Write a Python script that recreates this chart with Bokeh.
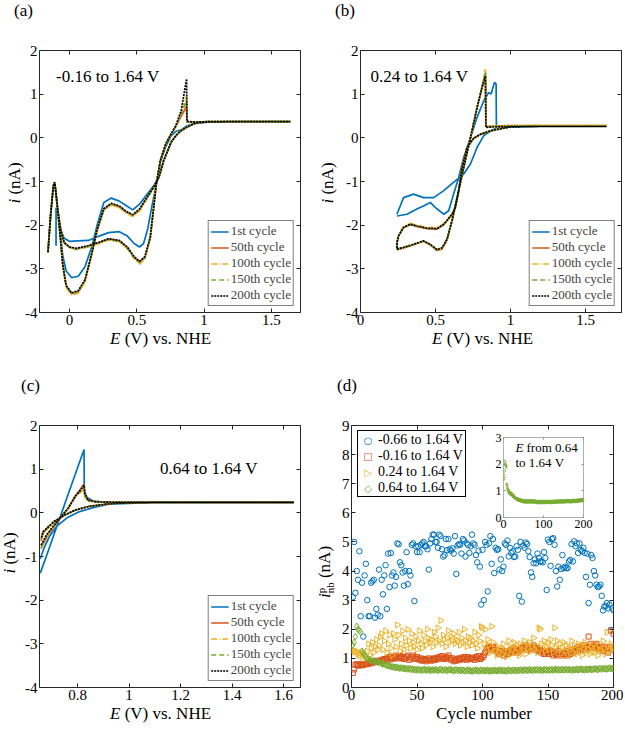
import numpy as np
from bokeh.plotting import figure
from bokeh.models import Range1d, LinearAxis, FixedTicker, Label, Legend, LegendItem, Div
from bokeh.layouts import row, column
from bokeh.embed import file_html
from bokeh.resources import INLINE

FONT = "Liberation Serif"
BLUE = "#0072BD"; RED = "#D95319"; YEL = "#EDB120"; GRN = "#77AC30"; BLK = "#000000"

# ---------------- panel (a): -0.16 to 1.64 V ----------------
a_E1 = [-0.10, -0.10, -0.09, -0.065, -0.04, 0.0, 0.06, 0.14, 0.22, 0.29, 0.37, 0.43, 0.48, 0.52, 0.55, 0.58, 0.61, 0.64,
        0.675, 0.715, 0.755, 0.79, 0.83, 0.87, 0.93, 1.03, 1.2, 1.4, 1.64,
        1.4, 1.2, 1.0, 0.93, 0.87, 0.83, 0.79, 0.755, 0.70, 0.665, 0.625, 0.575, 0.52, 0.47, 0.42, 0.37, 0.31, 0.255,
        0.205, 0.165, 0.115, 0.065, 0.015, -0.025, -0.05, -0.075, -0.10, -0.11, -0.12, -0.14, -0.16]
a_i1 = [-2.47, -1.6, -1.7, -2.1, -2.3, -2.37, -2.36, -2.35, -2.25, -2.17, -2.15, -2.25, -2.42, -2.5, -2.42, -2.1, -1.6, -1.15,
        -0.55, -0.2, 0.05, 0.15, 0.18, 0.27, 0.33, 0.36, 0.37, 0.37, 0.37,
        0.37, 0.37, 0.36, 0.33, 0.25, 0.17, 0.05, -0.1, -0.52, -0.88, -1.1, -1.3, -1.52, -1.65, -1.55, -1.45, -1.38, -1.48,
        -2.0, -2.5, -2.95, -3.17, -3.2, -3.05, -2.7, -2.0, -1.28, -1.02, -1.1, -1.75, -2.62]
a_E = [-0.16, -0.14, -0.12, -0.11, -0.09, -0.065, -0.04, 0.0, 0.05, 0.14, 0.22, 0.29, 0.37, 0.43, 0.48, 0.52, 0.56, 0.60,
       0.625, 0.645, 0.675, 0.715, 0.755, 0.79, 0.83, 0.87, 0.872, 0.93, 1.03, 1.2, 1.4, 1.64,
       1.4, 1.2, 1.0, 0.93, 0.87, 0.83, 0.79, 0.755, 0.70, 0.665, 0.625, 0.575, 0.52, 0.47, 0.42, 0.37, 0.31, 0.255,
       0.205, 0.165, 0.115, 0.065, 0.015, -0.025, -0.05, -0.075, -0.10, -0.11, -0.12, -0.14, -0.16]
a_i50 = [-2.62, -1.75, -1.1, -1.02, -1.59, -2.12, -2.4, -2.5, -2.54, -2.48, -2.4, -2.32, -2.36, -2.52, -2.74, -2.85, -2.74, -2.28,
         -1.6, -1.05, -0.52, -0.14, 0.09, 0.26, 0.5, 0.72, 0.36, 0.36, 0.37, 0.37, 0.37, 0.37,
         0.37, 0.37, 0.36, 0.33, 0.24, 0.17, 0.05, -0.1, -0.52, -0.9, -1.14, -1.38, -1.66, -1.78, -1.7, -1.58, -1.52, -1.64,
         -2.12, -2.66, -3.28, -3.53, -3.57, -3.4, -2.92, -2.05, -1.28, -1.02, -1.1, -1.75, -2.62]
a_i100 = [-2.62, -1.75, -1.1, -1.02, -1.59, -2.12, -2.41, -2.52, -2.56, -2.5, -2.42, -2.34, -2.38, -2.54, -2.77, -2.89, -2.77, -2.3,
          -1.6, -1.05, -0.52, -0.14, 0.09, 0.27, 0.58, 0.95, 0.36, 0.36, 0.37, 0.37, 0.37, 0.37,
          0.37, 0.37, 0.36, 0.33, 0.24, 0.17, 0.05, -0.1, -0.52, -0.9, -1.15, -1.4, -1.68, -1.8, -1.72, -1.6, -1.54, -1.66,
          -2.14, -2.68, -3.3, -3.56, -3.6, -3.42, -2.93, -2.05, -1.28, -1.02, -1.1, -1.75, -2.62]
a_i150 = [-2.62, -1.75, -1.1, -1.02, -1.59, -2.12, -2.4, -2.51, -2.55, -2.49, -2.41, -2.33, -2.37, -2.53, -2.75, -2.86, -2.75, -2.29,
          -1.6, -1.05, -0.52, -0.14, 0.09, 0.27, 0.55, 0.85, 0.36, 0.36, 0.37, 0.37, 0.37, 0.37,
          0.37, 0.37, 0.36, 0.33, 0.24, 0.17, 0.05, -0.1, -0.52, -0.9, -1.14, -1.38, -1.65, -1.77, -1.69, -1.57, -1.51, -1.63,
          -2.11, -2.66, -3.27, -3.52, -3.57, -3.39, -2.91, -2.05, -1.28, -1.02, -1.1, -1.75, -2.62]
a_i200 = [-2.62, -1.75, -1.1, -1.02, -1.59, -2.12, -2.4, -2.5, -2.53, -2.47, -2.39, -2.31, -2.35, -2.5, -2.72, -2.83, -2.72, -2.27,
          -1.6, -1.05, -0.52, -0.14, 0.09, 0.28, 0.63, 1.35, 0.38, 0.36, 0.37, 0.37, 0.37, 0.37,
          0.37, 0.37, 0.36, 0.33, 0.24, 0.17, 0.05, -0.1, -0.52, -0.9, -1.13, -1.36, -1.63, -1.76, -1.68, -1.56, -1.5, -1.62,
          -2.1, -2.65, -3.25, -3.5, -3.55, -3.38, -2.9, -2.05, -1.28, -1.02, -1.1, -1.75, -2.62]

# ---------------- panel (b): 0.24 to 1.64 V ----------------
b_E1 = [0.243, 0.31, 0.376, 0.42, 0.465, 0.5, 0.555, 0.588, 0.62, 0.655, 0.688, 0.733, 0.777, 0.822, 0.855, 0.87, 0.893,
        0.904, 0.906, 1.0, 1.2, 1.4, 1.64,
        1.4, 1.2, 1.0, 0.89, 0.822, 0.777, 0.733, 0.688, 0.62, 0.555, 0.488, 0.42, 0.354, 0.287, 0.243]
b_i1 = [-1.79, -1.75, -1.63, -1.56, -1.48, -1.6, -1.75, -1.67, -1.29, -0.91, -0.45, 0.0, 0.47, 0.85, 1.04, 1.0, 1.27,
        1.23, 0.27, 0.27, 0.27, 0.27, 0.27,
        0.27, 0.27, 0.25, 0.2, 0.05, -0.22, -0.6, -0.83, -1.02, -1.21, -1.37, -1.37, -1.29, -1.37, -1.75]
b_E = [0.243, 0.287, 0.354, 0.42, 0.465, 0.51, 0.543, 0.577, 0.61, 0.644, 0.688, 0.733, 0.777, 0.81, 0.833, 0.836, 0.89,
       1.0, 1.2, 1.4, 1.64,
       1.4, 1.2, 1.0, 0.955, 0.866, 0.8, 0.755, 0.71, 0.677, 0.655, 0.632, 0.61, 0.555, 0.51, 0.443, 0.376, 0.332, 0.287,
       0.254, 0.243, 0.243]
b_i50 = [-2.56, -2.52, -2.45, -2.37, -2.45, -2.58, -2.55, -2.34, -1.9, -1.37, -0.68, 0.0, 0.69, 1.15, 1.48, 0.26, 0.27,
         0.28, 0.28, 0.28, 0.28,
         0.28, 0.28, 0.27, 0.23, 0.16, 0.08, -0.01, -0.22, -0.68, -1.21, -1.6, -1.76, -1.99, -2.09, -2.08, -2.03, -1.99,
         -2.06, -2.25, -2.41, -2.56]
b_i100 = [-2.56, -2.52, -2.45, -2.37, -2.45, -2.57, -2.53, -2.33, -1.9, -1.37, -0.68, 0.0, 0.69, 1.18, 1.57, 0.26, 0.27,
          0.28, 0.28, 0.28, 0.28,
          0.28, 0.28, 0.27, 0.23, 0.16, 0.08, -0.01, -0.22, -0.68, -1.21, -1.6, -1.75, -1.97, -2.06, -2.05, -2.0, -1.96,
          -2.03, -2.23, -2.4, -2.56]
b_i150 = [-2.55, -2.51, -2.44, -2.36, -2.44, -2.56, -2.52, -2.32, -1.9, -1.37, -0.68, 0.0, 0.69, 1.16, 1.52, 0.25, 0.26,
          0.27, 0.27, 0.27, 0.27,
          0.27, 0.27, 0.26, 0.22, 0.16, 0.08, -0.01, -0.22, -0.68, -1.21, -1.6, -1.75, -1.98, -2.08, -2.07, -2.02, -1.98,
          -2.05, -2.24, -2.4, -2.55]
b_i200 = [-2.55, -2.51, -2.44, -2.36, -2.44, -2.56, -2.52, -2.32, -1.9, -1.37, -0.68, 0.0, 0.69, 1.15, 1.42, 0.24, 0.25,
          0.26, 0.26, 0.26, 0.26,
          0.26, 0.26, 0.25, 0.22, 0.16, 0.08, -0.01, -0.22, -0.68, -1.21, -1.6, -1.75, -1.98, -2.08, -2.07, -2.02, -1.98,
          -2.05, -2.24, -2.4, -2.55]

# ---------------- panel (c): 0.64 to 1.64 V ----------------
c_E1 = [0.655, 0.68, 0.72, 0.763, 0.804, 0.825, 0.826, 0.835, 0.86, 0.92, 1.1, 1.3, 1.5, 1.64,
        1.5, 1.3, 1.1, 0.92, 0.86, 0.804, 0.763, 0.72, 0.69, 0.67, 0.655]
c_i1 = [-1.38, -0.97, -0.3, 0.42, 1.1, 1.45, 0.5, 0.36, 0.27, 0.24, 0.24, 0.24, 0.24, 0.24,
        0.24, 0.24, 0.24, 0.2, 0.12, 0.02, -0.1, -0.3, -0.55, -0.8, -1.05]
c_E = [0.658, 0.68, 0.72, 0.763, 0.79, 0.811, 0.825, 0.828, 0.84, 0.873, 0.95, 1.1, 1.3, 1.5, 1.64,
       1.5, 1.3, 1.1, 0.95, 0.915, 0.845, 0.79, 0.75, 0.708, 0.666, 0.658]
c_i50 = [-0.82, -0.56, -0.22, 0.1, 0.38, 0.54, 0.66, 0.42, 0.29, 0.25, 0.24, 0.24, 0.24, 0.24, 0.24,
         0.24, 0.24, 0.24, 0.22, 0.2, 0.15, 0.06, -0.05, -0.21, -0.46, -0.64]
c_i100 = [-0.8, -0.54, -0.21, 0.1, 0.35, 0.47, 0.55, 0.3, 0.27, 0.25, 0.24, 0.24, 0.24, 0.24, 0.24,
          0.24, 0.24, 0.24, 0.22, 0.2, 0.15, 0.06, -0.05, -0.2, -0.44, -0.62]
c_i150 = [-0.78, -0.52, -0.2, 0.1, 0.36, 0.5, 0.6, 0.4, 0.28, 0.25, 0.24, 0.24, 0.24, 0.24, 0.24,
          0.24, 0.24, 0.24, 0.22, 0.2, 0.15, 0.06, -0.05, -0.2, -0.43, -0.6]
c_i200 = [-0.74, -0.5, -0.2, 0.1, 0.37, 0.52, 0.63, 0.45, 0.29, 0.25, 0.24, 0.24, 0.24, 0.24, 0.24,
          0.24, 0.24, 0.24, 0.22, 0.2, 0.15, 0.06, -0.05, -0.2, -0.43, -0.59]

cycle_names = ["1st cycle", "50th cycle", "100th cycle", "150th cycle", "200th cycle"]

# ---------------- panel (d): peak current vs cycle ----------------
cycles = list(range(1, 201))
d_066 = [3.1, 5.0, 3.25, 4.0, 3.7, 4.68, 2.45, 3.6, 1.75, 3.85,
         4.25, 3.0, 2.45, 2.45, 3.6, 3.65, 3.7, 2.4, 2.7, 2.5,
         4.05, 2.45, 3.7, 3.2, 3.85, 4.2, 2.7, 4.6, 3.45, 4.62,
         3.85, 3.95, 3.5, 3.8, 4.95, 4.92, 4.3, 4.2, 3.95, 3.5,
         4.0, 4.65, 3.55, 4.0, 3.85, 4.9, 4.95, 2.97, 4.85, 4.65,
         4.85, 4.65, 4.9, 4.95, 5.0, 4.85, 4.85, 4.75, 4.05, 4.95,
         5.1, 5.25, 5.25, 5.0, 5.0, 4.8, 5.25, 5.2, 4.75, 4.5,
         4.55, 5.1, 4.72, 5.1, 4.75, 4.7, 4.78, 4.6, 5.2, 3.9,
         4.88, 4.92, 4.9, 4.6, 5.1, 5.05, 4.5, 4.95, 4.9, 4.62,
         4.85, 5.25, 4.95, 4.9, 4.55, 4.3, 4.7, 4.15, 2.85, 4.73,
         3.0, 5.0, 4.9, 3.3, 4.95, 5.2, 4.25, 5.1, 3.93, 4.8,
         4.73, 4.75, 4.05, 4.4, 4.0, 4.15, 4.95, 4.9, 5.05, 4.5,
         4.8, 4.62, 4.68, 4.48, 4.5, 4.85, 4.73, 3.15, 5.0, 2.95,
         4.88, 4.8, 4.98, 4.93, 4.68, 4.48, 3.95, 3.8, 4.27, 4.4,
         4.27, 4.6, 4.45, 4.33, 4.33, 4.3, 4.65, 4.45, 3.35, 5.08,
         5.0, 4.18, 5.1, 5.13, 4.9, 4.0, 3.47, 4.15, 3.7, 4.07,
         4.55, 4.1, 4.15, 4.1, 4.1, 4.33, 4.38, 4.93, 4.33, 5.02,
         4.85, 4.95, 4.62, 4.95, 4.73, 4.68, 4.8, 4.62, 3.8, 4.6,
         2.9, 3.53, 4.55, 4.45, 4.0, 3.85, 3.53, 3.45, 3.47, 3.53,
         3.15, 2.65, 2.78, 2.8, 2.9, 2.72, 2.85, 1.98, 2.72, 2.65]
d_016 = [0.5, 0.62, 0.78, 0.8, 0.75, 0.78, 0.8, 0.76, 0.78, 0.8,
         0.82, 0.8, 0.85, 0.82, 0.88, 0.85, 0.9, 0.88, 0.92, 0.9,
         0.9, 0.92, 0.95, 0.9, 0.98, 0.95, 1.0, 0.95, 1.05, 1.0,
         0.98, 1.05, 1.0, 1.1, 1.05, 1.0, 1.08, 1.02, 1.05, 0.98,
         1.0, 1.05, 1.1, 0.95, 1.0, 1.05, 1.1, 1.0, 0.98, 1.05,
         1.0, 0.95, 1.0, 0.92, 0.95, 0.98, 0.9, 0.95, 1.0, 0.95,
         0.92, 0.98, 1.0, 0.95, 1.02, 0.98, 1.05, 1.0, 1.08, 1.0,
         0.98, 1.05, 1.0, 1.1, 1.02, 0.95, 1.0, 0.9, 0.95, 0.92,
         0.98, 1.0, 0.95, 1.02, 0.98, 1.05, 1.0, 0.95, 1.05, 1.0,
         0.98, 1.02, 1.0, 0.95, 1.05, 1.0, 1.08, 0.98, 1.0, 1.05,
         1.1, 1.2, 1.3, 1.35, 1.4, 1.35, 1.3, 1.4, 1.35, 1.3,
         1.25, 1.2, 1.15, 1.25, 1.2, 1.1, 1.2, 1.25, 1.15, 1.2,
         1.25, 1.3, 1.2, 1.35, 1.25, 1.3, 1.2, 1.25, 1.3, 1.35,
         1.4, 1.35, 1.45, 1.3, 1.4, 1.35, 1.3, 1.4, 1.45, 1.35,
         1.3, 1.35, 1.25, 1.3, 1.2, 1.25, 1.15, 1.2, 1.25, 1.2,
         1.15, 1.25, 1.2, 1.1, 1.2, 1.15, 1.1, 1.25, 1.2, 1.15,
         1.1, 1.2, 1.15, 1.25, 1.1, 1.2, 1.15, 1.3, 1.2, 1.25,
         1.3, 1.35, 1.25, 1.4, 1.3, 1.35, 1.45, 1.3, 1.4, 1.35,
         1.75, 1.4, 1.5, 1.35, 1.45, 1.4, 1.5, 1.35, 1.3, 1.4,
         1.35, 1.25, 1.4, 1.3, 1.35, 1.2, 1.4, 1.95, 1.3, 1.85]
d_024 = [1.3, 1.25, 1.2, 1.25, 1.15, 1.1, 1.2, 1.05, 1.15, 1.1,
         1.0, 1.25, 1.5, 1.1, 1.35, 1.55, 1.2, 1.4, 1.65, 1.3,
         1.45, 1.75, 1.85, 1.3, 1.6, 1.95, 1.2, 1.5, 1.8, 1.35,
         1.1, 1.85, 1.65, 1.4, 2.15, 1.8, 1.25, 1.5, 1.95, 1.3,
         1.7, 1.45, 2.0, 1.6, 1.35, 1.85, 1.55, 1.4, 1.75, 1.3,
         1.6, 1.95, 1.5, 1.35, 1.8, 1.6, 1.45, 2.0, 1.7, 1.55,
         1.65, 1.4, 1.9, 1.75, 1.55, 2.05, 1.6, 2.3, 1.5, 1.8,
         1.65, 1.4, 1.7, 1.95, 1.55, 1.75, 1.6, 1.85, 1.5, 1.65,
         1.6, 1.9, 1.45, 1.7, 1.55, 2.0, 1.6, 1.4, 1.75, 1.55,
         1.7, 1.45, 1.6, 1.9, 1.5, 1.35, 1.8, 1.6, 2.1, 2.05,
         1.5, 2.0, 1.3, 1.65, 1.45, 1.2, 2.1, 1.55, 1.35, 1.25,
         1.1, 1.4, 1.2, 1.35, 1.15, 1.5, 1.3, 1.05, 1.25, 1.6,
         1.4, 1.15, 1.3, 1.55, 1.2, 1.45, 1.35, 1.1, 1.5, 1.25,
         1.3, 1.6, 1.15, 1.45, 1.35, 1.55, 1.25, 1.4, 1.7, 1.3,
         1.45, 1.2, 2.05, 2.0, 1.5, 1.35, 1.6, 1.25, 1.4, 1.55,
         1.3, 1.65, 1.45, 1.2, 2.05, 1.4, 1.6, 1.3, 1.5, 1.15,
         1.35, 1.55, 1.25, 1.45, 1.1, 1.4, 1.3, 1.6, 1.2, 1.45,
         1.3, 1.15, 1.5, 1.25, 1.4, 1.1, 1.35, 1.55, 1.2, 1.45,
         1.3, 1.15, 1.4, 1.25, 1.5, 1.2, 1.35, 1.1, 1.45, 1.3,
         1.25, 1.6, 1.35, 1.15, 1.9, 1.4, 1.25, 1.5, 1.3, 1.35]
d_064 = [1.45, 1.55, 1.75, 2.1, 2.0, 1.95, 1.9, 1.25, 1.2, 1.1,
         1.05, 1.0, 0.98, 0.95, 0.92, 0.9, 0.92, 0.88, 0.9, 0.86,
         0.88, 0.85, 0.82, 0.8, 0.82, 0.78, 0.76, 0.75, 0.74, 0.72,
         0.72, 0.7, 0.7, 0.68, 0.7, 0.67, 0.66, 0.68, 0.65, 0.66,
         0.64, 0.66, 0.63, 0.65, 0.62, 0.64, 0.61, 0.63, 0.6, 0.62,
         0.6, 0.62, 0.58, 0.61, 0.6, 0.63, 0.59, 0.6, 0.62, 0.58,
         0.6, 0.61, 0.59, 0.62, 0.6, 0.58, 0.61, 0.63, 0.6, 0.59,
         0.62, 0.6, 0.58, 0.61, 0.6, 0.62, 0.59, 0.57, 0.6, 0.61,
         0.58, 0.6, 0.59, 0.57, 0.6, 0.58, 0.56, 0.59, 0.6, 0.57,
         0.58, 0.56, 0.59, 0.57, 0.6, 0.58, 0.56, 0.58, 0.6, 0.57,
         0.59, 0.57, 0.58, 0.6, 0.56, 0.58, 0.59, 0.57, 0.6, 0.58,
         0.57, 0.59, 0.58, 0.6, 0.57, 0.59, 0.58, 0.56, 0.59, 0.6,
         0.58, 0.57, 0.6, 0.59, 0.57, 0.6, 0.58, 0.59, 0.61, 0.58,
         0.6, 0.59, 0.61, 0.58, 0.6, 0.62, 0.59, 0.6, 0.58, 0.61,
         0.6, 0.62, 0.59, 0.61, 0.6, 0.58, 0.62, 0.6, 0.61, 0.59,
         0.61, 0.6, 0.62, 0.59, 0.61, 0.63, 0.6, 0.62, 0.6, 0.61,
         0.62, 0.6, 0.61, 0.63, 0.6, 0.62, 0.61, 0.59, 0.62, 0.6,
         0.61, 0.63, 0.6, 0.62, 0.64, 0.61, 0.62, 0.6, 0.63, 0.61,
         0.62, 0.64, 0.61, 0.63, 0.62, 0.65, 0.63, 0.61, 0.64, 0.66,
         0.63, 0.65, 0.64, 0.66, 0.63, 0.65, 0.67, 0.64, 0.66, 0.65]
d_names = ["-0.66 to 1.64 V", "-0.16 to 1.64 V", "0.24 to 1.64 V", "0.64 to 1.64 V"]
d_symbols = ["\u25CB", "\u25A1", "\u25B7", "\u25C7"]

# tick values / labels
ab_xticks = [0, 0.5, 1, 1.5]; ab_xlabels = ["0", "0.5", "1", "1.5"]
c_xticks = [0.8, 1.0, 1.2, 1.4, 1.6]; c_xlabels = ["0.8", "1", "1.2", "1.4", "1.6"]
cv_yticks = [-4, -3, -2, -1, 0, 1, 2]; cv_ylabels = ["-4", "-3", "-2", "-1", "0", "1", "2"]
d_xticks = [0, 50, 100, 150, 200]; d_xlabels = ["0", "50", "100", "150", "200"]
d_yticks = list(range(0, 10)); d_ylabels = [str(v) for v in d_yticks]
in_xticks = [0, 100, 200]; in_xlabels = ["0", "100", "200"]
in_yticks = [0, 1, 2, 3]; in_ylabels = ["0", "1", "2", "3"]


def base_fig(w, h, xr, yr, bl, br, bt, bb, outline="#262626"):
    p = figure(width=w, height=h, x_range=Range1d(*xr), y_range=Range1d(*yr),
               x_axis_type=None, y_axis_type=None, output_backend="svg", toolbar_location=None,
               min_border_left=bl, min_border_right=br, min_border_top=bt, min_border_bottom=bb)
    p.outline_line_color = outline
    p.outline_line_width = 1
    p.background_fill_color = "white"
    p.border_fill_color = "white"
    return p


def axes(p, xt, xl, yt, yl, fs="15px", tick_len=4, color="#262626"):
    for loc, ticks, labels, show in [("below", xt, xl, True), ("above", xt, xl, False),
                                     ("left", yt, yl, True), ("right", yt, yl, False)]:
        ax = LinearAxis(ticker=FixedTicker(ticks=ticks), major_label_overrides=dict(zip(ticks, labels)))
        ax.axis_line_color = None
        ax.major_tick_in = tick_len
        ax.major_tick_out = 0
        ax.major_tick_line_color = color
        ax.minor_tick_line_color = None
        ax.major_label_text_font = FONT
        if show:
            ax.major_label_text_color = "black"
            ax.major_label_text_font_size = fs
            ax.major_label_standoff = 2
        else:
            ax.major_label_text_color = None
            ax.major_label_text_font_size = "1px"
            ax.major_label_standoff = 0
        p.add_layout(ax, loc)


def lab(p, x, y, s, size="17px", style="normal", xo=0):
    p.add_layout(Label(x=x, y=y, x_units="data", y_units="data", text=s, text_font=FONT,
                       text_font_size=size, text_font_style=style, text_align="left",
                       text_baseline="middle", x_offset=xo, text_color="black"))


def hdiv(html, left, top, w, h, size=17, rotate=False, align="left"):
    st = {"position": "absolute", "left": f"{left}px", "top": f"{top}px"}
    if rotate:
        st["transform"] = "rotate(-90deg)"
        st["transform-origin"] = "50% 50%"
    inner = (f'<div style="font-family:\'{FONT}\';font-size:{size}px;line-height:{h}px;color:#000;'
             f'white-space:nowrap;text-align:{align};width:{w}px;height:{h}px;">{html}</div>')
    return Div(text=inner, width=w, height=h, margin=0, styles=st)


def cv_lines(p, E1, i1, E, i50, i100, i150, i200):
    series = [(E1, i1, BLUE, "solid"), (E, i50, RED, "solid"), (E, i100, YEL, "6 2 1 2"),
              (E, i150, GRN, "5 3"), (E, i200, BLK, "2 1")]
    items = []
    for name, (xx, yy, col, dash) in zip(cycle_names, series):
        r = p.line(xx, yy, line_color=col, line_width=1.7, line_dash=dash)
        items.append(LegendItem(label=name, renderers=[r]))
    leg = Legend(items=items, location="bottom_right", margin=6, padding=2, spacing=0,
                 glyph_width=18, glyph_height=15, label_height=15, label_standoff=2,
                 label_text_font=FONT, label_text_font_size="13px",
                 border_line_color="black", border_line_width=1, background_fill_color="white",
                 background_fill_alpha=1.0)
    p.add_layout(leg)


# ---------- (a) ----------
pa = base_fig(312, 362, (-0.223, 1.716), (-4, 2), 39, 12, 50, 50)
axes(pa, ab_xticks, ab_xlabels, cv_yticks, cv_ylabels)
cv_lines(pa, a_E1, a_i1, a_E, a_i50, a_i100, a_i150, a_i200)
lab(pa, -0.1, 1.4, "-0.16 to 1.64 V")

# ---------- (b) ----------
pb = base_fig(311, 362, (0, 1.74), (-4, 2), 48, 2, 50, 50)
axes(pb, ab_xticks, ab_xlabels, cv_yticks, cv_ylabels)
cv_lines(pb, b_E1, b_i1, b_E, b_i50, b_i100, b_i150, b_i200)
lab(pb, 0.067, 1.4, "0.24 to 1.64 V")

# ---------- (c) ----------
pc = base_fig(312, 366, (0.652, 1.666), (-4, 2), 39, 12, 63, 40)
axes(pc, c_xticks, c_xlabels, cv_yticks, cv_ylabels)
cv_lines(pc, c_E1, c_i1, c_E, c_i50, c_i100, c_i150, c_i200)
lab(pc, 1.12, 1.02, "0.64 to 1.64 V")

# ---------- (d) ----------
pd = base_fig(311, 366, (0, 200), (0, 9), 39, 10, 63, 41)
axes(pd, d_xticks, d_xlabels, d_yticks, d_ylabels)
specs = [(d_066, BLUE, "circle", 0.0, 5.5), (d_016, RED, "square", 0.0, 5.0),
         (d_024, YEL, "triangle", -np.pi / 2, 6.0), (d_064, GRN, "diamond", 0.0, 6.5)]
for vals, col, mk, ang, sz in specs:
    pd.scatter(cycles, vals, marker=mk, angle=ang, size=sz, fill_color=None, line_color=col, line_width=1)

# legend of (d) as an HTML box (keeps the right-pointing triangle symbol)
leg_rows = "".join(
    f'<div style="height:16px;line-height:16px;white-space:nowrap;">'
    f'<span style="display:inline-block;width:20px;text-align:center;color:{col};'
    f'font-family:\'DejaVu Sans\';font-size:10px;">{sym}</span>'
    f'<span style="font-family:\'{FONT}\';font-size:14px;color:#000;">{name}</span></div>'
    for sym, col, name in zip(d_symbols, [BLUE, RED, YEL, GRN], d_names))
d_legend = Div(text=(f'<div style="box-sizing:border-box;width:109px;height:67px;border:1px solid #000;'
                     f'background:#fff;padding-top:1px;">{leg_rows}</div>'),
               width=109, height=67, margin=0,
               styles={"position": "absolute", "left": "357px", "top": "430px"})

# ---------- inset ----------
inset = figure(width=108, height=106, x_range=Range1d(0, 200), y_range=Range1d(0, 3),
               x_axis_type=None, y_axis_type=None, output_backend="svg", toolbar_location=None,
               min_border_left=16, min_border_right=12, min_border_top=8, min_border_bottom=18)
inset.outline_line_color = "#b0b0b0"
inset.background_fill_color = "white"
inset.border_fill_color = None
axes(inset, in_xticks, in_xlabels, in_yticks, in_ylabels, fs="12px", tick_len=2, color="#909090")
inset.scatter(cycles, d_064, marker="diamond", size=3.5, fill_color=None, line_color=GRN, line_width=0.8)
lab(inset, 30, 2.63, "E", size="13px", style="italic")
lab(inset, 30, 2.63, "from 0.64", size="13px", xo=11)
lab(inset, 30, 2.06, "to 1.64 V", size="13px")
inset.styles = {"position": "absolute", "left": "487px", "top": "429px"}

# ---------- panel letters and axis titles (HTML text, absolutely placed) ----------
xlab_html = "<i>E</i> (V) vs. NHE"
ylab_html = "<i>i</i> (nA)"
ylab_d_html = ("<i>i</i><span style=\"display:inline-block;vertical-align:-4px;font-size:11px;"
               "line-height:9px;text-align:left;\">p<br>nb</span> (nA)")
texts = [
    hdiv("(a)", 14, 2, 30, 18),
    hdiv("(b)", 335, 2, 30, 18),
    hdiv("(c)", 21, 377, 30, 18),
    hdiv("(d)", 337, 377, 30, 18),
    hdiv(xlab_html, 110, 330, 130, 18),
    hdiv(xlab_html, 432, 330, 130, 18),
    hdiv(xlab_html, 110, 705, 130, 18),
    hdiv("Cycle number", 424, 705, 120, 18, align="center"),
    hdiv(ylab_html, 15 - 30, 183 - 9, 60, 18, rotate=True, align="center"),
    hdiv(ylab_html, 328 - 30, 183 - 9, 60, 18, rotate=True, align="center"),
    hdiv(ylab_html, 10 - 30, 553 - 9, 60, 18, rotate=True, align="center"),
    hdiv(ylab_d_html, 325 - 35, 572 - 11, 70, 22, rotate=True, align="center"),
]

root = column(row(pa, pb), row(pc, pd), inset, d_legend, *texts)
open("out.html", "w").write(file_html(root, INLINE))
